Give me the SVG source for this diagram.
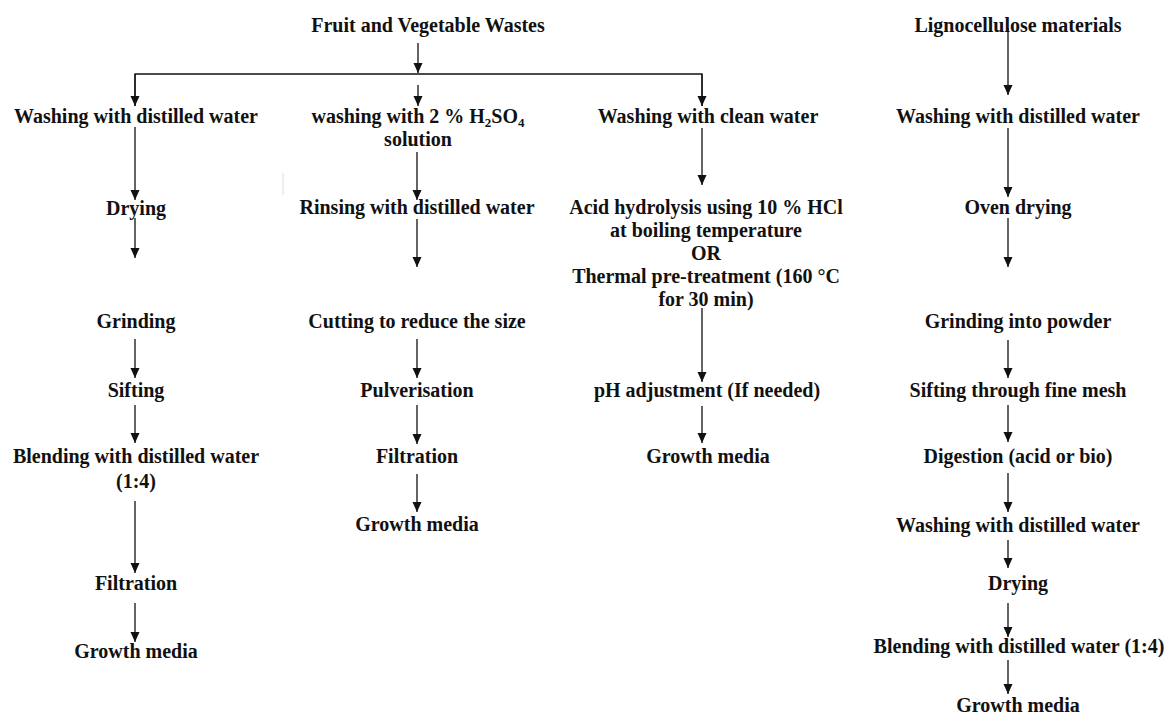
<svg xmlns="http://www.w3.org/2000/svg" width="1166" height="716" viewBox="0 0 1166 716">
<style>
text{font-family:"Liberation Serif","Times New Roman",serif;font-weight:bold;font-size:20px;fill:#111;text-anchor:middle}
.c line,.c path{stroke:#111;stroke-width:1.3;fill:none}
.sub{font-size:13px}
</style>
<defs>
<marker id="ah" markerUnits="userSpaceOnUse" markerWidth="10" markerHeight="10" refX="10" refY="4.5" orient="auto">
<path d="M0,0 L10,4.5 L0,9 z" fill="#111"/>
</marker>
</defs>
<rect width="1166" height="716" fill="#fff"/>
<g id="connectors" class="c">
<line x1="418" y1="43" x2="418" y2="73" marker-end="url(#ah)"/>
<path d="M135,106 V74 H702 V106"/>
<line x1="135" y1="74" x2="135" y2="106" marker-end="url(#ah)"/>
<line x1="702" y1="74" x2="702" y2="106" marker-end="url(#ah)"/>
<line x1="418" y1="85" x2="418" y2="106" marker-end="url(#ah)"/>
<line x1="135" y1="127" x2="135" y2="200" marker-end="url(#ah)"/>
<line x1="135" y1="218" x2="135" y2="258" marker-end="url(#ah)"/>
<line x1="135" y1="339" x2="135" y2="378" marker-end="url(#ah)"/>
<line x1="135" y1="405" x2="135" y2="443" marker-end="url(#ah)"/>
<line x1="135" y1="501" x2="135" y2="573" marker-end="url(#ah)"/>
<line x1="135" y1="603" x2="135" y2="642" marker-end="url(#ah)"/>
<line x1="417" y1="152" x2="417" y2="200" marker-end="url(#ah)"/>
<line x1="417" y1="219" x2="417" y2="267" marker-end="url(#ah)"/>
<line x1="417" y1="339" x2="417" y2="378" marker-end="url(#ah)"/>
<line x1="417" y1="405" x2="417" y2="444" marker-end="url(#ah)"/>
<line x1="417" y1="474" x2="417" y2="512" marker-end="url(#ah)"/>
<line x1="702" y1="128" x2="702" y2="185" marker-end="url(#ah)"/>
<line x1="702" y1="308" x2="702" y2="382" marker-end="url(#ah)"/>
<line x1="702" y1="406" x2="702" y2="443" marker-end="url(#ah)"/>
<line x1="1008" y1="28" x2="1008" y2="95" marker-end="url(#ah)"/>
<line x1="1008" y1="128" x2="1008" y2="197" marker-end="url(#ah)"/>
<line x1="1008" y1="218" x2="1008" y2="267" marker-end="url(#ah)"/>
<line x1="1008" y1="340" x2="1008" y2="378" marker-end="url(#ah)"/>
<line x1="1008" y1="405" x2="1008" y2="442" marker-end="url(#ah)"/>
<line x1="1008" y1="473" x2="1008" y2="512" marker-end="url(#ah)"/>
<line x1="1008" y1="540" x2="1008" y2="568" marker-end="url(#ah)"/>
<line x1="1008" y1="603" x2="1008" y2="637" marker-end="url(#ah)"/>
<line x1="1008" y1="660" x2="1008" y2="694" marker-end="url(#ah)"/>
</g>
<line x1="283" y1="173" x2="283" y2="195" stroke="#ddd" stroke-width="1"/>
<g id="n-fvw"><text x="428" y="32">Fruit and Vegetable Wastes</text></g>
<g id="n-c1-wash"><text x="136" y="123">Washing with distilled water</text></g>
<g id="n-c1-dry"><text x="136" y="215">Drying</text></g>
<g id="n-c1-grind"><text x="136" y="328">Grinding</text></g>
<g id="n-c1-sift"><text x="136" y="397">Sifting</text></g>
<g id="n-c1-blend"><text x="136" y="463">Blending with distilled water</text><text x="136" y="488">(1:4)</text></g>
<g id="n-c1-filt"><text x="136" y="590">Filtration</text></g>
<g id="n-c1-gm"><text x="136" y="658">Growth media</text></g>
<g id="n-c2-wash"><text x="418" y="123">washing with 2 % H<tspan class="sub" dy="4">2</tspan><tspan dy="-4">SO</tspan><tspan class="sub" dy="4">4</tspan></text><text x="418" y="146">solution</text></g>
<g id="n-c2-rinse"><text x="417" y="214">Rinsing with distilled water</text></g>
<g id="n-c2-cut"><text x="417" y="328">Cutting to reduce the size</text></g>
<g id="n-c2-pulv"><text x="417" y="397">Pulverisation</text></g>
<g id="n-c2-filt"><text x="417" y="463">Filtration</text></g>
<g id="n-c2-gm"><text x="417" y="531">Growth media</text></g>
<g id="n-c3-wash"><text x="708" y="123">Washing with clean water</text></g>
<g id="n-c3-acid"><text x="706" y="214">Acid hydrolysis using 10 % HCl</text><text x="706" y="237">at boiling temperature</text><text x="706" y="260">OR</text><text x="706" y="283">Thermal pre-treatment (160 °C</text><text x="706" y="306">for 30 min)</text></g>
<g id="n-c3-ph"><text x="707" y="397">pH adjustment (If needed)</text></g>
<g id="n-c3-gm"><text x="708" y="463">Growth media</text></g>
<g id="n-lig"><text x="1018" y="32">Lignocellulose materials</text></g>
<g id="n-c4-wash"><text x="1018" y="123">Washing with distilled water</text></g>
<g id="n-c4-oven"><text x="1018" y="214">Oven drying</text></g>
<g id="n-c4-grind"><text x="1018" y="328">Grinding into powder</text></g>
<g id="n-c4-sift"><text x="1018" y="397">Sifting through fine mesh</text></g>
<g id="n-c4-dig"><text x="1018" y="463">Digestion (acid or bio)</text></g>
<g id="n-c4-wash2"><text x="1018" y="532">Washing with distilled water</text></g>
<g id="n-c4-dry"><text x="1018" y="590">Drying</text></g>
<g id="n-c4-blend"><text x="1019" y="653">Blending with distilled water (1:4)</text></g>
<g id="n-c4-gm"><text x="1018" y="712">Growth media</text></g>
</svg>
